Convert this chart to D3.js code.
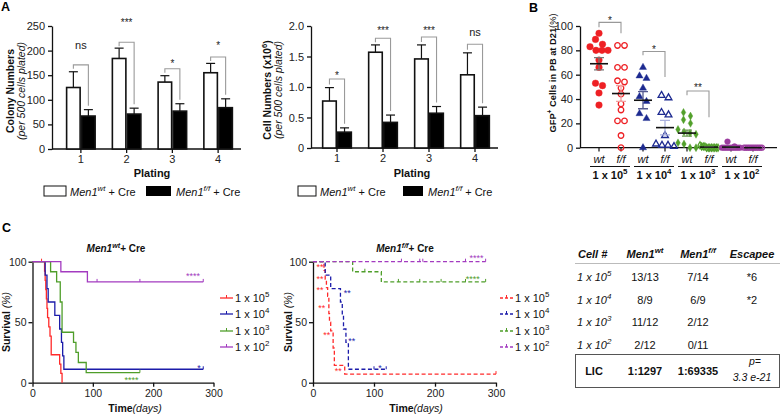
<!DOCTYPE html>
<html><head><meta charset="utf-8">
<script src="https://cdn.jsdelivr.net/npm/d3@7"></script>
<style>body{margin:0;background:#fff}svg{display:block;font-family:"Liberation Sans",Arial,sans-serif}</style>
</head><body><svg id="c" width="781" height="416"></svg>
<script>
// ---------------- DATA ----------------
const platings = ["1","2","3","4"];
const colonyWt = [125,184,136,155], colonyWtSem = [32,21,13,19];
const colonyFf = [67,71,77,84],     colonyFfSem = [13,12,15,18];
const colonySig = ["ns","***","*","*"];
const colonyBracket = [171,217,163,187];
const colonySigY = [209,262,179,215];
const colonyTicks = [0,50,100,150,200,250];

const cellWt = [0.77,1.57,1.46,1.20], cellWtSem = [0.22,0.12,0.23,0.36];
const cellFf = [0.26,0.42,0.57,0.53], cellFfSem = [0.07,0.12,0.11,0.14];
const cellSig = ["*","***","***","ns"];
const cellBracket = [1.13,1.80,1.82,1.70];
const cellSigY = [1.23,1.97,1.97,1.89];
const cellTicks = [0,0.5,1.0,1.5,2.0];

// Panel B
const bColumns = ["wt5","ff5","wt4","ff4","wt3","ff3","wt2","ff2"];
const bGenotype = ["wt","f/f","wt","f/f","wt","f/f","wt","f/f"];
const bDoses = ["5","4","3","2"];
const gfpWt5 = [94,89,85,83,80,80,80,72,66,53,51,45,35];
const gfpFf5 = [84,84,66,66,55,54,49,44,36,31,22,22,10,0];
const gfpWt4 = [66,59,57,49,42,38,28,24,0];
const gfpFf4 = [43,41,29,27,10,3,2,2,1];
const gfpWt3 = [29,26,23,20,15,13,12,11,4,3,0,0];
const gfpFf3 = [2,1,1,1,0,0,0,0,0,0,0,0];
const gfpWt2 = [5,1,0,0,0,0,0,0,0,0,0,0];
const gfpFf2 = [0,0,0,0,0,0,0,0,0,0,0];
const gfpMean = [69,44.5,39,16.5,12,0.5,0.5,0];
const gfpSem = [5,6.5,7,6,2.5,0.3,0.4,0];
const bSig = [["*",0,1,103,99,94,107],["*",2,3,79,76,58,83],["**",4,5,46.6,43,25,51.5]];
const bTicks = [0,20,40,60,80,100];

// Panel C survival (day, % surviving), step-after
const doses = ["5","4","3","2"];
const survWt = [
  [[0,100],[20,92.3],[21,84.6],[22,76.9],[23,69.2],[24,61.5],[25,53.8],[27,46.2],[29,38.5],[31,23.1],[45,15.4],[47,7.7],[49,0],[49,0]],
  [[0,100],[21,88.9],[24,77.8],[26,66.7],[37,55.6],[45,44.4],[48,33.3],[50,22.2],[52,11.1],[283,11.1]],
  [[0,100],[30,91.7],[40,83.3],[46,66.7],[49,41.7],[68,33.3],[72,25],[76,16.7],[89,8.3],[178,8.3]],
  [[0,100],[47,91.7],[91,83.3],[283,83.3]]
];
const censorWt = [[[15,100]],[[283,11.1]],[[178,8.3]],[[107,83.3],[178,83.3],[283,83.3]]];
const survFf = [
  [[0,100],[18,92.9],[20,85.7],[22,78.6],[24,71.4],[26,57.1],[27,50],[29,42.9],[33,28.6],[35,14.3],[52,7.1],[300,7.1]],
  [[0,100],[20,88.9],[29,77.8],[45,66.7],[48,55.6],[50,44.4],[54,33.3],[58,11.1],[120,11.1]],
  [[0,100],[65,91.7],[112,83.3],[283,83.3]],
  [[0,100],[283,100]]
];
const censorFf = [[[300,7.1]],[[100,11.1],[120,11.1]],[[85,91.7],[140,83.3],[175,83.3],[210,83.3],[250,83.3],[283,83.3]],[[145,100],[175,100],[180,100],[250,100],[283,100]]];
const starsWt = [["****",2,164,4],["*",1,276,14],["****",3,266,90]];
const starsFf = [["**",0,11.5,97],["**",0,11.5,87.4],["**",0,11.5,78.6],["**",0,14.3,63.4],["**",0,22.5,41.4],["**",0,41.5,11],
                 ["**",1,56,75.8],["**",1,63.4,36.4],["*",1,110,13.5],["****",2,262,87],["****",3,268,105]];

// Table
const tableDoses = ["5","4","3","2"];
const tableWt = ["13/13","8/9","11/12","2/12"];
const tableFf = ["7/14","6/9","2/12","0/11"];
const tableEsc = ["*6","*2","",""];
const licWt = "1:1297", licFf = "1:69335", licP = "3.3 e-21";

// ---------------- DRAWING ----------------
const svg = d3.select("#c");
const colors = ["#ee2024","#1d2a90","#52a02a","#9b3b9e"];
const curveColors = ["#ff2a2a","#1c1caa","#4f9e2a","#a33bc0"];

function sup(sel, parts) {
  let shifted = false;
  parts.forEach(p => {
    const ts = sel.append("tspan").text(p.t);
    if (p.i) ts.attr("font-style","italic");
    if (p.b) ts.attr("font-weight","bold");
    if (p.n) ts.attr("font-weight","normal");
    if (p.s) { ts.attr("font-size","0.72em").attr("dy", -p.s); shifted = p.s; }
    else if (shifted) { ts.attr("dy", shifted); shifted = false; }
  });
  return sel;
}

function styleAxis(g, fs) {
  g.selectAll("path,line").attr("stroke","#111").attr("stroke-width",1.3);
  g.selectAll("text").attr("font-size",fs).attr("fill","#222").attr("font-family",'"Liberation Sans",Arial,sans-serif');
}

function sigBaseline(label, cy, fs) {
  return label.startsWith("*") ? cy + 0.62*fs : cy + 0.3*fs;
}

function barPanel(o) {
  const g = svg.append("g");
  const x = d3.scaleBand().domain(platings).range(o.xr).paddingInner(0.344).paddingOuter(0.172);
  const sub = d3.scaleBand().domain(["wt","ff"]).range([0,x.bandwidth()]);
  const y = d3.scaleLinear().domain([0,o.max]).range([o.y0,o.y1]);
  const ya = g.append("g").attr("transform",`translate(${o.ax},0)`)
    .call(d3.axisLeft(y).tickValues(o.ticks).tickFormat(o.fmt).tickSize(4).tickSizeOuter(0).tickPadding(3));
  styleAxis(ya, 11);
  g.append("line").attr("x1",o.ax).attr("x2",o.xr[1]).attr("y1",o.y0).attr("y2",o.y0).attr("stroke","#111").attr("stroke-width",1.3);
  const xa = g.append("g").attr("transform",`translate(0,${o.y0})`)
    .call(d3.axisBottom(x).tickSize(4).tickSizeOuter(0).tickPadding(2));
  xa.select(".domain").remove();
  styleAxis(xa, 11);
  const series = [["wt",o.wt,o.wtSem,"#fff"],["ff",o.ff,o.ffSem,"#000"]];
  series.forEach(([k,vals,sems,fill]) => {
    const cx = i => x(platings[i]) + sub(k) + sub.bandwidth()/2;
    g.selectAll(null).data(vals).join("line")
      .attr("x1",(d,i)=>cx(i)).attr("x2",(d,i)=>cx(i))
      .attr("y1",d=>y(d)).attr("y2",(d,i)=>y(d+sems[i])).attr("stroke","#111").attr("stroke-width",1.2);
    g.selectAll(null).data(vals).join("line")
      .attr("x1",(d,i)=>cx(i)-4.5).attr("x2",(d,i)=>cx(i)+4.5)
      .attr("y1",(d,i)=>y(d+sems[i])).attr("y2",(d,i)=>y(d+sems[i])).attr("stroke","#111").attr("stroke-width",1.2);
    g.selectAll(null).data(vals).join("rect")
      .attr("x",(d,i)=>x(platings[i])+sub(k)+0.75).attr("width",sub.bandwidth()-1.5)
      .attr("y",d=>y(d)).attr("height",d=>o.y0-y(d))
      .attr("fill",fill).attr("stroke","#111").attr("stroke-width",1.6);
  });
  o.sig.forEach((lab,i) => {
    const xl = x(platings[i]) + sub("wt") + sub.bandwidth()/2;
    const xr = x(platings[i]) + sub("ff") + sub.bandwidth()/2;
    const yb = y(o.bracket[i]);
    const yl = y(o.wt[i]+o.wtSem[i]) - 3;
    const yr = y(o.ff[i]+o.ffSem[i]) - 4;
    g.append("path").attr("d",`M${xl},${Math.max(yl,yb+4)}V${yb}H${xr}V${yr}`)
      .attr("fill","none").attr("stroke","#9a9a9a").attr("stroke-width",1.1);
    const fs = lab.startsWith("*") ? 10 : 11;
    g.append("text").attr("x",(xl+xr)/2).attr("y",sigBaseline(lab,y(o.sigY[i]),fs))
      .attr("text-anchor","middle").attr("font-size",fs).attr("fill","#222").text(lab);
  });
  const t = g.append("g").attr("transform",`translate(${o.tx},${o.ty}) rotate(-90)`);
  sup(t.append("text").attr("text-anchor","middle").attr("font-size",10.5).attr("font-weight","bold").attr("fill","#111"), o.title);
  t.append("text").attr("y",11).attr("text-anchor","middle").attr("font-size",10.5).attr("font-style","italic").attr("fill","#111").text("(per 500 cells plated)");
  g.append("text").attr("x",o.px).attr("y",177).attr("text-anchor","middle").attr("font-size",11).attr("font-weight","bold").attr("fill","#111").text("Plating");
  const L = g.append("g");
  L.append("rect").attr("x",o.lx).attr("y",186).attr("width",o.lw).attr("height",10).attr("fill","#fff").attr("stroke","#111").attr("stroke-width",1);
  sup(L.append("text").attr("x",o.lx+o.lw+4).attr("y",196).attr("font-size",11).attr("fill","#111"),
    [{t:"Men1",i:1},{t:"wt",i:1,s:5},{t:" + Cre"}]);
  L.append("rect").attr("x",o.lx2).attr("y",186).attr("width",o.lw2).attr("height",10).attr("fill","#000");
  sup(L.append("text").attr("x",o.lx2+o.lw2+5).attr("y",196).attr("font-size",11).attr("fill","#111"),
    [{t:"Men1",i:1},{t:"f/f",i:1,s:5},{t:" + Cre"}]);
}

barPanel({xr:[58,241], ax:52, y0:149, y1:26, max:250, ticks:colonyTicks, fmt:d3.format("d"),
  wt:colonyWt, wtSem:colonyWtSem, ff:colonyFf, ffSem:colonyFfSem, sig:colonySig, bracket:colonyBracket, sigY:colonySigY,
  tx:14, ty:91, title:[{t:"Colony Numbers"}], px:152, lx:44, lw:22, lx2:146, lw2:25});
barPanel({xr:[314,498], ax:311, y0:148, y1:26, max:2.0, ticks:cellTicks, fmt:d=>d===0?"0":d3.format(".1f")(d),
  wt:cellWt, wtSem:cellWtSem, ff:cellFf, ffSem:cellFfSem, sig:cellSig, bracket:cellBracket, sigY:cellSigY,
  tx:271, ty:90, title:[{t:"Cell Numbers (x10"},{t:"6",s:4},{t:")"}], px:412, lx:298, lw:18, lx2:403, lw2:20});

svg.append("text").attr("x",1).attr("y",11).attr("font-size",12.5).attr("font-weight","bold").text("A");
svg.append("text").attr("x",529).attr("y",12).attr("font-size",12.5).attr("font-weight","bold").text("B");
svg.append("text").attr("x",2).attr("y",232).attr("font-size",12.5).attr("font-weight","bold").text("C");

// ---------------- Panel B ----------------
(function(){
  const g = svg.append("g");
  const x = d3.scalePoint().domain(bColumns).range([588,764]).padding(0.5);
  const y = d3.scaleLinear().domain([0,100]).range([147.7,26]);
  const ya = g.append("g").attr("transform","translate(580,0)")
    .call(d3.axisLeft(y).tickValues(bTicks).tickSize(4).tickSizeOuter(0).tickPadding(3));
  styleAxis(ya, 11);
  g.append("line").attr("x1",580).attr("x2",777).attr("y1",147.7).attr("y2",147.7).attr("stroke","#111").attr("stroke-width",1.3);
  bColumns.forEach(c => g.append("line").attr("x1",x(c)).attr("x2",x(c)).attr("y1",147.7).attr("y2",151.5).attr("stroke","#111").attr("stroke-width",1.2));
  const data = [gfpWt5,gfpFf5,gfpWt4,gfpFf4,gfpWt3,gfpFf3,gfpWt2,gfpFf2];
  const shapes = [d3.symbolCircle,d3.symbolCircle,d3.symbolTriangle,d3.symbolTriangle,d3.symbolDiamond,d3.symbolDiamond,d3.symbolCircle,d3.symbolCircle];
  const sizes = [34,24,22,20,18,14,26,20];
  const semCol = ["#777","#f2a0a0","#555a90","#aab0dd","#6a9a50","#b5dca0","#888","#c9a0cc"];
  data.forEach((vals,ci) => {
    const col = colors[Math.floor(ci/2)];
    const filled = ci%2===0;
    const sorted = vals.slice().sort((a,b)=>b-a);
    const groups = [];
    sorted.forEach(v => {
      const last = groups[groups.length-1];
      if (last && last[0]-v < 4.5) last.push(v); else groups.push([v]);
    });
    const pts = [];
    groups.forEach(gr => {
      const n = gr.length, sp = n>1 ? Math.min(7, 18/(n-1)) : 0;
      gr.forEach((v,i) => pts.push([x(bColumns[ci]) + (i-(n-1)/2)*sp, y(v)]));
    });
    g.selectAll(null).data(pts).join("path")
      .attr("transform",d=>`translate(${d[0]},${d[1]})`)
      .attr("d",d3.symbol(shapes[ci],sizes[ci]))
      .attr("fill",filled?col:"none")
      .attr("stroke",col).attr("stroke-width",filled?0.4:1.3);
    const cx = x(bColumns[ci]);
    const m = gfpMean[ci], s = gfpSem[ci];
    g.append("path").attr("d",`M${cx},${y(m-s)}V${y(m+s)}M${cx-5},${y(m-s)}H${cx+5}M${cx-5},${y(m+s)}H${cx+5}`)
      .attr("stroke",semCol[ci]).attr("stroke-width",1.3).attr("fill","none");
    g.append("line").attr("x1",cx-9).attr("x2",cx+9).attr("y1",y(m)).attr("y2",y(m)).attr("stroke","#111").attr("stroke-width",1.6);
    g.append("text").attr("x",cx).attr("y",163).attr("text-anchor","middle").attr("font-size",11).attr("font-style","italic").attr("fill","#111").text(bGenotype[ci]);
  });
  bDoses.forEach((d,i) => {
    const x1 = x(bColumns[2*i])-9, x2 = x(bColumns[2*i+1])+9;
    g.append("line").attr("x1",x1).attr("x2",x2).attr("y1",166.5).attr("y2",166.5).attr("stroke","#111").attr("stroke-width",1);
    sup(g.append("text").attr("x",(x1+x2)/2).attr("y",179).attr("text-anchor","middle").attr("font-size",11).attr("font-weight","bold").attr("fill","#111"),
      [{t:"1 x 10"},{t:d,s:5}]);
  });
  bSig.forEach(([lab,a,b,yb,yl,yr,ys]) => {
    const xa = x(bColumns[a]), xb = x(bColumns[b]);
    g.append("path").attr("d",`M${xa},${y(yl)}V${y(yb)}H${xb}V${y(yr)}`).attr("fill","none").attr("stroke","#999").attr("stroke-width",1.1);
    g.append("text").attr("x",(xa+xb)/2).attr("y",sigBaseline(lab,y(ys),10)).attr("text-anchor","middle").attr("font-size",10).attr("fill","#222").text(lab);
  });
  const t = g.append("g").attr("transform","translate(556,73) rotate(-90)");
  sup(t.append("text").attr("text-anchor","middle").attr("font-size",9.5).attr("font-weight","bold").attr("fill","#111")
      .attr("textLength",119).attr("lengthAdjust","spacingAndGlyphs"),
    [{t:"GFP"},{t:"+",s:4},{t:" Cells in PB at D21"},{t:"(%)",n:1}]);
})();

// ---------------- Panel C survival ----------------
function survPanel(o) {
  const g = svg.append("g");
  const x = d3.scaleLinear().domain([0,300]).range(o.xr);
  const y = d3.scaleLinear().domain([0,100]).range([382.7,261.7]);
  const ya = g.append("g").attr("transform",`translate(${o.xr[0]},0)`)
    .call(d3.axisLeft(y).tickValues([0,50,100]).tickSize(4).tickSizeOuter(0).tickPadding(2));
  styleAxis(ya, 10.5);
  const xa = g.append("g").attr("transform","translate(0,382.7)")
    .call(d3.axisBottom(x).tickValues([0,100,200,300]).tickSize(4).tickSizeOuter(0).tickPadding(3));
  styleAxis(xa, 10.5);
  const line = d3.line().x(d=>x(d[0])).y(d=>y(d[1])).curve(d3.curveStepAfter);
  o.surv.forEach((s,i) => {
    g.append("path").attr("d",line(s)).attr("fill","none").attr("stroke",curveColors[i]).attr("stroke-width",1.3)
      .attr("stroke-dasharray",o.dash?"4,2.5":null);
    g.selectAll(null).data(o.censor[i]).join("line")
      .attr("x1",d=>x(d[0])).attr("x2",d=>x(d[0])).attr("y1",d=>y(d[1])).attr("y2",d=>y(d[1])-3)
      .attr("stroke",curveColors[i]).attr("stroke-width",1);
  });
  o.stars.forEach(([lab,ci,dx,dy]) => {
    g.append("text").attr("x",x(dx)).attr("y",y(dy)+5).attr("text-anchor","middle").attr("font-size",9).attr("fill",curveColors[ci]).text(lab);
  });
  const t = g.append("g").attr("transform",`translate(${o.ytx},322) rotate(-90)`);
  t.append("text").attr("text-anchor","middle").attr("font-size",10.5).attr("fill","#111")
    .call(s=>sup(s,[{t:"Survival",b:1},{t:" (%)",i:1}]));
  g.append("text").attr("x",o.xtx).attr("y",412).attr("text-anchor","middle").attr("font-size",10.5).attr("fill","#111")
    .call(s=>sup(s,[{t:"Time",b:1},{t:"(days)",i:1}]));
  sup(g.append("text").attr("x",o.tlx).attr("y",252).attr("text-anchor","middle").attr("font-size",10).attr("font-weight","bold").attr("fill","#111"),
    [{t:"Men1",i:1},{t:o.geno,i:1,s:4},{t:"+ Cre"}]);
  doses.forEach((d,i) => {
    const ly = o.ly[i];
    g.append("line").attr("x1",o.lx).attr("x2",o.lx+13).attr("y1",ly).attr("y2",ly).attr("stroke",curveColors[i]).attr("stroke-width",1.3)
      .attr("stroke-dasharray",o.dash?"3,2":null);
    g.append("line").attr("x1",o.lx+6.5).attr("x2",o.lx+6.5).attr("y1",ly).attr("y2",ly-3).attr("stroke",curveColors[i]).attr("stroke-width",1);
    sup(g.append("text").attr("x",o.lx+15).attr("y",ly+4).attr("font-size",11).attr("fill","#111"),[{t:"1 x 10"},{t:d,s:5}]);
  });
}
survPanel({xr:[32.5,213.5], surv:survWt, censor:censorWt, stars:starsWt, dash:false, ytx:10, xtx:135, tlx:116, geno:"wt",
  lx:220, ly:[298,314,331,347]});
survPanel({xr:[313,496], surv:survFf, censor:censorFf, stars:starsFf, dash:true, ytx:292, xtx:416, tlx:405, geno:"f/f",
  lx:500, ly:[298,314,331,347]});

// ---------------- Table ----------------
(function(){
  const g = svg.append("g").attr("fill","#111");
  const cx = [578,645,698,752];
  g.append("text").attr("x",cx[0]).attr("y",258).attr("font-size",11).attr("font-weight","bold").attr("font-style","italic").text("Cell #");
  sup(g.append("text").attr("x",cx[1]).attr("y",258).attr("text-anchor","middle").attr("font-size",11).attr("font-weight","bold").attr("font-style","italic"),
    [{t:"Men1"},{t:"wt",s:5}]);
  sup(g.append("text").attr("x",cx[2]).attr("y",258).attr("text-anchor","middle").attr("font-size",11).attr("font-weight","bold").attr("font-style","italic"),
    [{t:"Men1"},{t:"f/f",s:5}]);
  g.append("text").attr("x",cx[3]).attr("y",258).attr("text-anchor","middle").attr("font-size",11).attr("font-weight","bold").attr("font-style","italic").text("Escapee");
  g.append("line").attr("x1",575).attr("x2",780).attr("y1",263.5).attr("y2",263.5).attr("stroke","#bbb").attr("stroke-width",1);
  const rowY = [281,304,326,349];
  tableDoses.forEach((d,i) => {
    sup(g.append("text").attr("x",577).attr("y",rowY[i]).attr("font-size",11).attr("font-style","italic"),[{t:"1 x 10"},{t:d,s:5}]);
    g.append("text").attr("x",cx[1]).attr("y",rowY[i]).attr("text-anchor","middle").attr("font-size",11).text(tableWt[i]);
    g.append("text").attr("x",cx[2]).attr("y",rowY[i]).attr("text-anchor","middle").attr("font-size",11).text(tableFf[i]);
    g.append("text").attr("x",cx[3]).attr("y",rowY[i]).attr("text-anchor","middle").attr("font-size",11).text(tableEsc[i]);
  });
  g.append("rect").attr("x",575.5).attr("y",354.5).attr("width",204).attr("height",33).attr("fill","none").attr("stroke","#555").attr("stroke-width",1);
  g.append("text").attr("x",594).attr("y",375).attr("text-anchor","middle").attr("font-size",11).attr("font-weight","bold").text("LIC");
  g.append("text").attr("x",cx[1]).attr("y",375).attr("text-anchor","middle").attr("font-size",11).attr("font-weight","bold").text(licWt);
  g.append("text").attr("x",cx[2]).attr("y",375).attr("text-anchor","middle").attr("font-size",11).attr("font-weight","bold").text(licFf);
  g.append("text").attr("x",755).attr("y",365).attr("text-anchor","middle").attr("font-size",10.5).attr("font-style","italic").text("p=");
  g.append("text").attr("x",752).attr("y",381).attr("text-anchor","middle").attr("font-size",10.5).attr("font-style","italic").text(licP);
})();
</script></body></html>
